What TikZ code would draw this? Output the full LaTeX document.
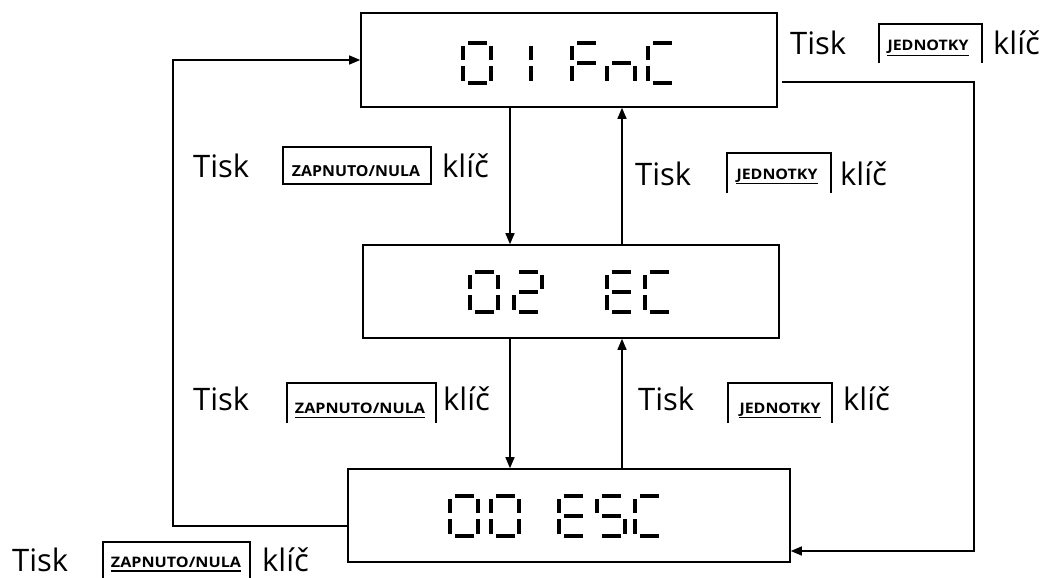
\documentclass[tikz,border=0pt]{standalone}
\usepackage{fontspec}
\usepackage{graphicx}
\setmainfont{Open Sans}
\usetikzlibrary{arrows.meta}
\newcommand{\segA}{\draw[segline] (5,0) -- (24,0);}
\newcommand{\segB}{\draw[segline] (28,3) -- (28,17);}
\newcommand{\segC}{\draw[segline] (28,23) -- (28,38);}
\newcommand{\segD}{\draw[segline] (5,40) -- (24,40);}
\newcommand{\segE}{\draw[segline] (0,23) -- (0,38);}
\newcommand{\segF}{\draw[segline] (0,3) -- (0,17);}
\newcommand{\segG}{\draw[segline] (5,20) -- (24,20);}
\newcommand{\sevseg}[3]{\begin{scope}[shift={(#1,#2)}]#3\end{scope}}
\newcommand{\kZ}{\resizebox{130pt}{10.5pt}{\bfseries ZAPNUTO/NULA}}
\newcommand{\kJ}{\resizebox{81pt}{10.5pt}{\bfseries JEDNOTKY}}
\begin{document}
\begin{tikzpicture}[x=1pt,y=-1pt,
  dispbox/.style={draw,line width=1.6pt,inner sep=0pt},
  segline/.style={line width=4.2pt},
  arr/.style={line width=1.4pt,-{Triangle[length=11pt,width=9pt]}},
  keyline/.style={line width=1.6pt},
  uline/.style={line width=1.6pt},
  big/.style={font=\fontsize{31}{31}\selectfont,inner sep=0pt,anchor=base west},
  keyt/.style={inner sep=0pt,anchor=base}]
\useasboundingbox (0,0) rectangle (1045,578);
% display boxes
\node[dispbox,minimum width=416pt,minimum height=94pt] (top) at (569,60) {};
\node[dispbox,minimum width=416pt,minimum height=93pt] (mid) at (571,291.5) {};
\node[dispbox,minimum width=442pt,minimum height=93pt] (bot) at (569,515.5) {};
% digits top: 01 FnC
\sevseg{463}{43}{\segA\segB\segC\segD\segE\segF}
\sevseg{503}{43}{\segB\segC}
\sevseg{572}{43}{\segA\segF\segE\segG}
\sevseg{607}{43}{\segE\segG\segC}
\sevseg{648}{43}{\segA\segF\segE\segD}
% digits middle: 02 EC
\sevseg{470}{272}{\segA\segB\segC\segD\segE\segF}
\sevseg{514}{272}{\segA\segB\segG\segE\segD}
\sevseg{607}{272}{\segA\segF\segG\segE\segD}
\sevseg{645}{272}{\segA\segF\segE\segD}
% digits bottom: 00 E5C
\sevseg{450}{496}{\segA\segB\segC\segD\segE\segF}
\sevseg{491}{496}{\segA\segB\segC\segD\segE\segF}
\sevseg{559}{496}{\segA\segF\segG\segE\segD}
\sevseg{597}{496}{\segA\segF\segG\segC\segD}
\sevseg{635}{496}{\segA\segF\segE\segD}
% connectors
\coordinate (dx) at (510,0);
\coordinate (ux) at (622,0);
\draw[arr] (top.south -| dx) -- (mid.north -| dx);
\draw[arr] (mid.north -| ux) -- (top.south -| ux);
\draw[arr] (mid.south -| dx) -- (bot.north -| dx);
\draw[arr] (bot.north -| ux) -- (mid.south -| ux);
\coordinate (lc1) at (173,526);
\coordinate (lc2) at (173,60);
\draw[arr] ([yshift=-10.5pt]bot.west) -- (lc1) -- (lc2) -- (top.west);
\coordinate (rs) at (782,82);
\coordinate (rc1) at (974,82);
\coordinate (rc2) at (974,551);
\draw[arr] (rs) -- (rc1) -- (rc2) -- ([yshift=-35.5pt]bot.east);
% label 1 (top right)
\node[big] (t1) at (790,55) {Tisk};
\draw[keyline] (879,63) -- (879,24) -- (982,24) -- (982,63);
\node[keyt] (k1) at (928,51) {\kJ};
\draw[uline] ([yshift=-4.5pt]k1.base west) -- ([yshift=-4.5pt]k1.base east);
\node[big] (c1) at (993,55) {klíč};
% label 2 (upper left)
\node[big] (t2) at (193,177) {Tisk};
\node[draw,line width=1.6pt,minimum width=148pt,minimum height=37pt,inner sep=0pt] (b2) at (357,165.5) {};
\node[keyt] (k2) at (356,176) {\resizebox{128pt}{11pt}{\bfseries ZAPNUTO/NULA}};
\node[big] (c2) at (442,177) {klíč};
% label 3 (upper right)
\node[big] (t3) at (635,185) {Tisk};
\draw[keyline] (727,193) -- (727,153) -- (831,153) -- (831,193);
\node[keyt] (k3) at (777,179) {\kJ};
\draw[uline] ([yshift=-4.5pt]k3.base west) -- ([yshift=-4.5pt]k3.base east);
\node[big] (c3) at (840,185) {klíč};
% label 4 (lower left)
\node[big] (t4) at (193,410) {Tisk};
\draw[keyline] (287,423) -- (287,383) -- (436,383) -- (436,423);
\node[keyt] (k4) at (360,413) {\kZ};
\draw[uline] ([yshift=-4.5pt]k4.base west) -- ([yshift=-4.5pt]k4.base east);
\node[big] (c4) at (443,410) {klíč};
% label 5 (lower right)
\node[big] (t5) at (638,410) {Tisk};
\draw[keyline] (728,423) -- (728,383) -- (832,383) -- (832,423);
\node[keyt] (k5) at (780,413) {\kJ};
\draw[uline] ([yshift=-4.5pt]k5.base west) -- ([yshift=-4.5pt]k5.base east);
\node[big] (c5) at (843,410) {klíč};
% label 6 (bottom)
\node[big] (t6) at (12,571) {Tisk};
\draw[keyline] (103,578) -- (103,542) -- (250,542) -- (250,578);
\node[keyt] (k6) at (176,567) {\kZ};
\draw[uline] ([yshift=-4pt]k6.base west) -- ([yshift=-4pt]k6.base east);
\node[big] (c6) at (262,571) {klíč};
\end{tikzpicture}
\end{document}
